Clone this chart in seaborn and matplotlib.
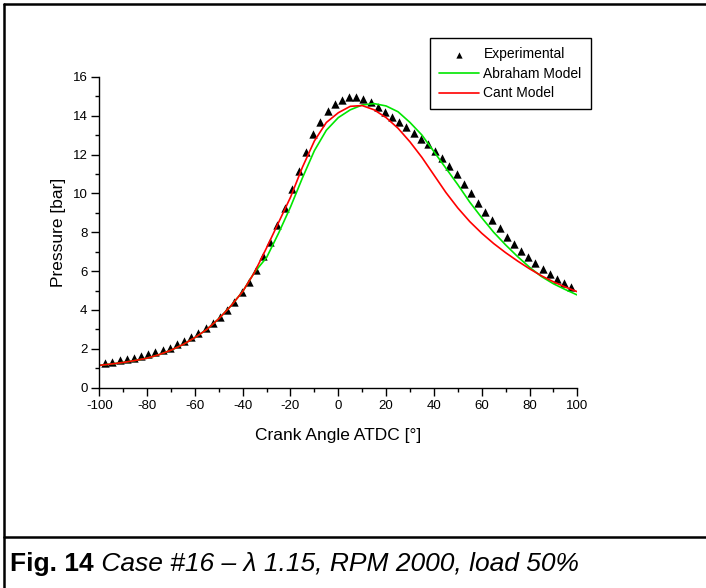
import matplotlib
matplotlib.use('Agg')
import matplotlib.pyplot as plt
from matplotlib.lines import Line2D
from matplotlib.ticker import MultipleLocator
import seaborn as sns

# === data ===
exp_angle = [-97.5, -94.5, -91.5, -88.5, -85.5, -82.5, -79.5, -76.5, -73.5, -70.5,
             -67.5, -64.5, -61.5, -58.5, -55.5, -52.5, -49.5, -46.5, -43.5, -40.5,
             -37.5, -34.5, -31.5, -28.5, -25.5, -22.5, -19.5, -16.5, -13.5, -10.5,
             -7.5, -4.5, -1.5, 1.5, 4.5, 7.5, 10.5, 13.5, 16.5, 19.5,
             22.5, 25.5, 28.5, 31.5, 34.5, 37.5, 40.5, 43.5, 46.5, 49.5,
             52.5, 55.5, 58.5, 61.5, 64.5, 67.5, 70.5, 73.5, 76.5, 79.5,
             82.5, 85.5, 88.5, 91.5, 94.5, 97.5]
exp_pressure = [1.29, 1.34, 1.41, 1.48, 1.54, 1.63, 1.72, 1.82, 1.92, 2.06,
                2.25, 2.38, 2.61, 2.80, 3.05, 3.33, 3.62, 4.01, 4.43, 4.92,
                5.43, 6.06, 6.76, 7.51, 8.35, 9.26, 10.22, 11.17, 12.15, 13.04,
                13.67, 14.23, 14.61, 14.82, 14.95, 14.96, 14.86, 14.69, 14.46, 14.20,
                13.95, 13.66, 13.40, 13.09, 12.82, 12.53, 12.18, 11.80, 11.41, 10.98,
                10.49, 10.00, 9.53, 9.03, 8.63, 8.22, 7.77, 7.40, 7.02, 6.71,
                6.40, 6.12, 5.85, 5.59, 5.37, 5.17]

model_angle = [-100, -95, -90, -85, -80, -75, -70, -65, -60, -55,
               -50, -45, -40, -35, -30, -25, -20, -15, -10, -5,
               0, 5, 10, 15, 20, 25, 30, 35, 40, 45,
               50, 55, 60, 65, 70, 75, 80, 85, 90, 95, 100]
abraham_pressure = [1.15, 1.22, 1.30, 1.40, 1.52, 1.70, 1.93, 2.22, 2.58, 3.00,
                    3.55, 4.20, 4.95, 5.95, 6.70, 7.95, 9.30, 10.80, 12.20, 13.25,
                    13.90, 14.30, 14.55, 14.62, 14.50, 14.20, 13.65, 13.00, 12.15, 11.30,
                    10.45, 9.55, 8.75, 8.00, 7.35, 6.75, 6.20, 5.72, 5.35, 5.05, 4.77]
cant_pressure = [1.15, 1.22, 1.30, 1.40, 1.52, 1.70, 1.93, 2.22, 2.58, 3.00,
                 3.55, 4.20, 4.95, 5.95, 7.20, 8.50, 9.80, 11.35, 12.70, 13.65,
                 14.15, 14.48, 14.52, 14.30, 13.90, 13.35, 12.65, 11.85, 10.95, 10.05,
                 9.25, 8.55, 7.95, 7.42, 6.95, 6.52, 6.12, 5.76, 5.45, 5.18, 4.94]

# === style ===
sns.set_style('ticks')
plt.rcParams['font.family'] = ['Liberation Sans', 'DejaVu Sans']
plt.rcParams['axes.unicode_minus'] = False
plt.rcParams['text.color'] = 'black'
plt.rcParams['axes.labelcolor'] = 'black'
plt.rcParams['xtick.color'] = 'black'
plt.rcParams['ytick.color'] = 'black'
plt.rcParams['axes.edgecolor'] = 'black'

W, H = 706, 588
fig = plt.figure(figsize=(W / 100, H / 100), dpi=100)
ax = fig.add_axes([99.3 / W, 1 - 387.7 / H, 478 / W, 310.9 / H])

sns.scatterplot(x=exp_angle, y=exp_pressure, marker='^', color='black', s=36,
                linewidth=0, ax=ax, label='Experimental')
sns.lineplot(x=model_angle, y=abraham_pressure, color='#00e600', linewidth=1.2,
             ax=ax, label='Abraham Model')
sns.lineplot(x=model_angle, y=cant_pressure, color='#ff0000', linewidth=1.2,
             ax=ax, label='Cant Model')

ax.set_xlim(-100, 100)
ax.set_ylim(0, 16)
ax.xaxis.set_major_locator(MultipleLocator(20))
ax.xaxis.set_minor_locator(MultipleLocator(10))
ax.yaxis.set_major_locator(MultipleLocator(2))
ax.yaxis.set_minor_locator(MultipleLocator(1))
ax.tick_params(which='major', length=5.5, width=1, labelsize=9.5, pad=3)
ax.tick_params(which='minor', length=3, width=1)
sns.despine(ax=ax)
for sp in ax.spines.values():
    sp.set_linewidth(1)

ax.set_xlabel('Crank Angle ATDC [°]', fontsize=12.5, labelpad=12)
ax.set_ylabel('Pressure [bar]', fontsize=12.5, labelpad=5)

leg = ax.legend(loc='upper left', bbox_to_anchor=(430 / W, 1 - 38.3 / H),
                bbox_transform=fig.transFigure, frameon=True, fancybox=False,
                edgecolor='black', framealpha=1, fontsize=10, handlelength=2.9,
                handletextpad=0.3, labelspacing=0.4, borderpad=0.65,
                borderaxespad=0, markerscale=0.75)
leg.get_frame().set_linewidth(1.0)

# page frame and caption cell
lw = 1.8
fig.add_artist(Line2D([4 / W, 4 / W], [0, 1 - 4 / H], color='black', lw=lw))
fig.add_artist(Line2D([4 / W, 1], [1 - 4 / H, 1 - 4 / H], color='black', lw=lw))
fig.add_artist(Line2D([4 / W, 1], [1 - 537 / H, 1 - 537 / H], color='black', lw=lw))

cap = fig.text(10 / W, 1 - 576 / H, 'Fig. 14', fontsize=19, fontweight='bold',
               va='bottom', ha='left')
ax.annotate(' Case #16 – λ 1.15, RPM 2000, load 50%', xy=(1, 0), xycoords=cap,
            va='bottom', ha='left', fontsize=19, fontstyle='italic',
            annotation_clip=False)

fig.savefig('out.png', dpi=100)
